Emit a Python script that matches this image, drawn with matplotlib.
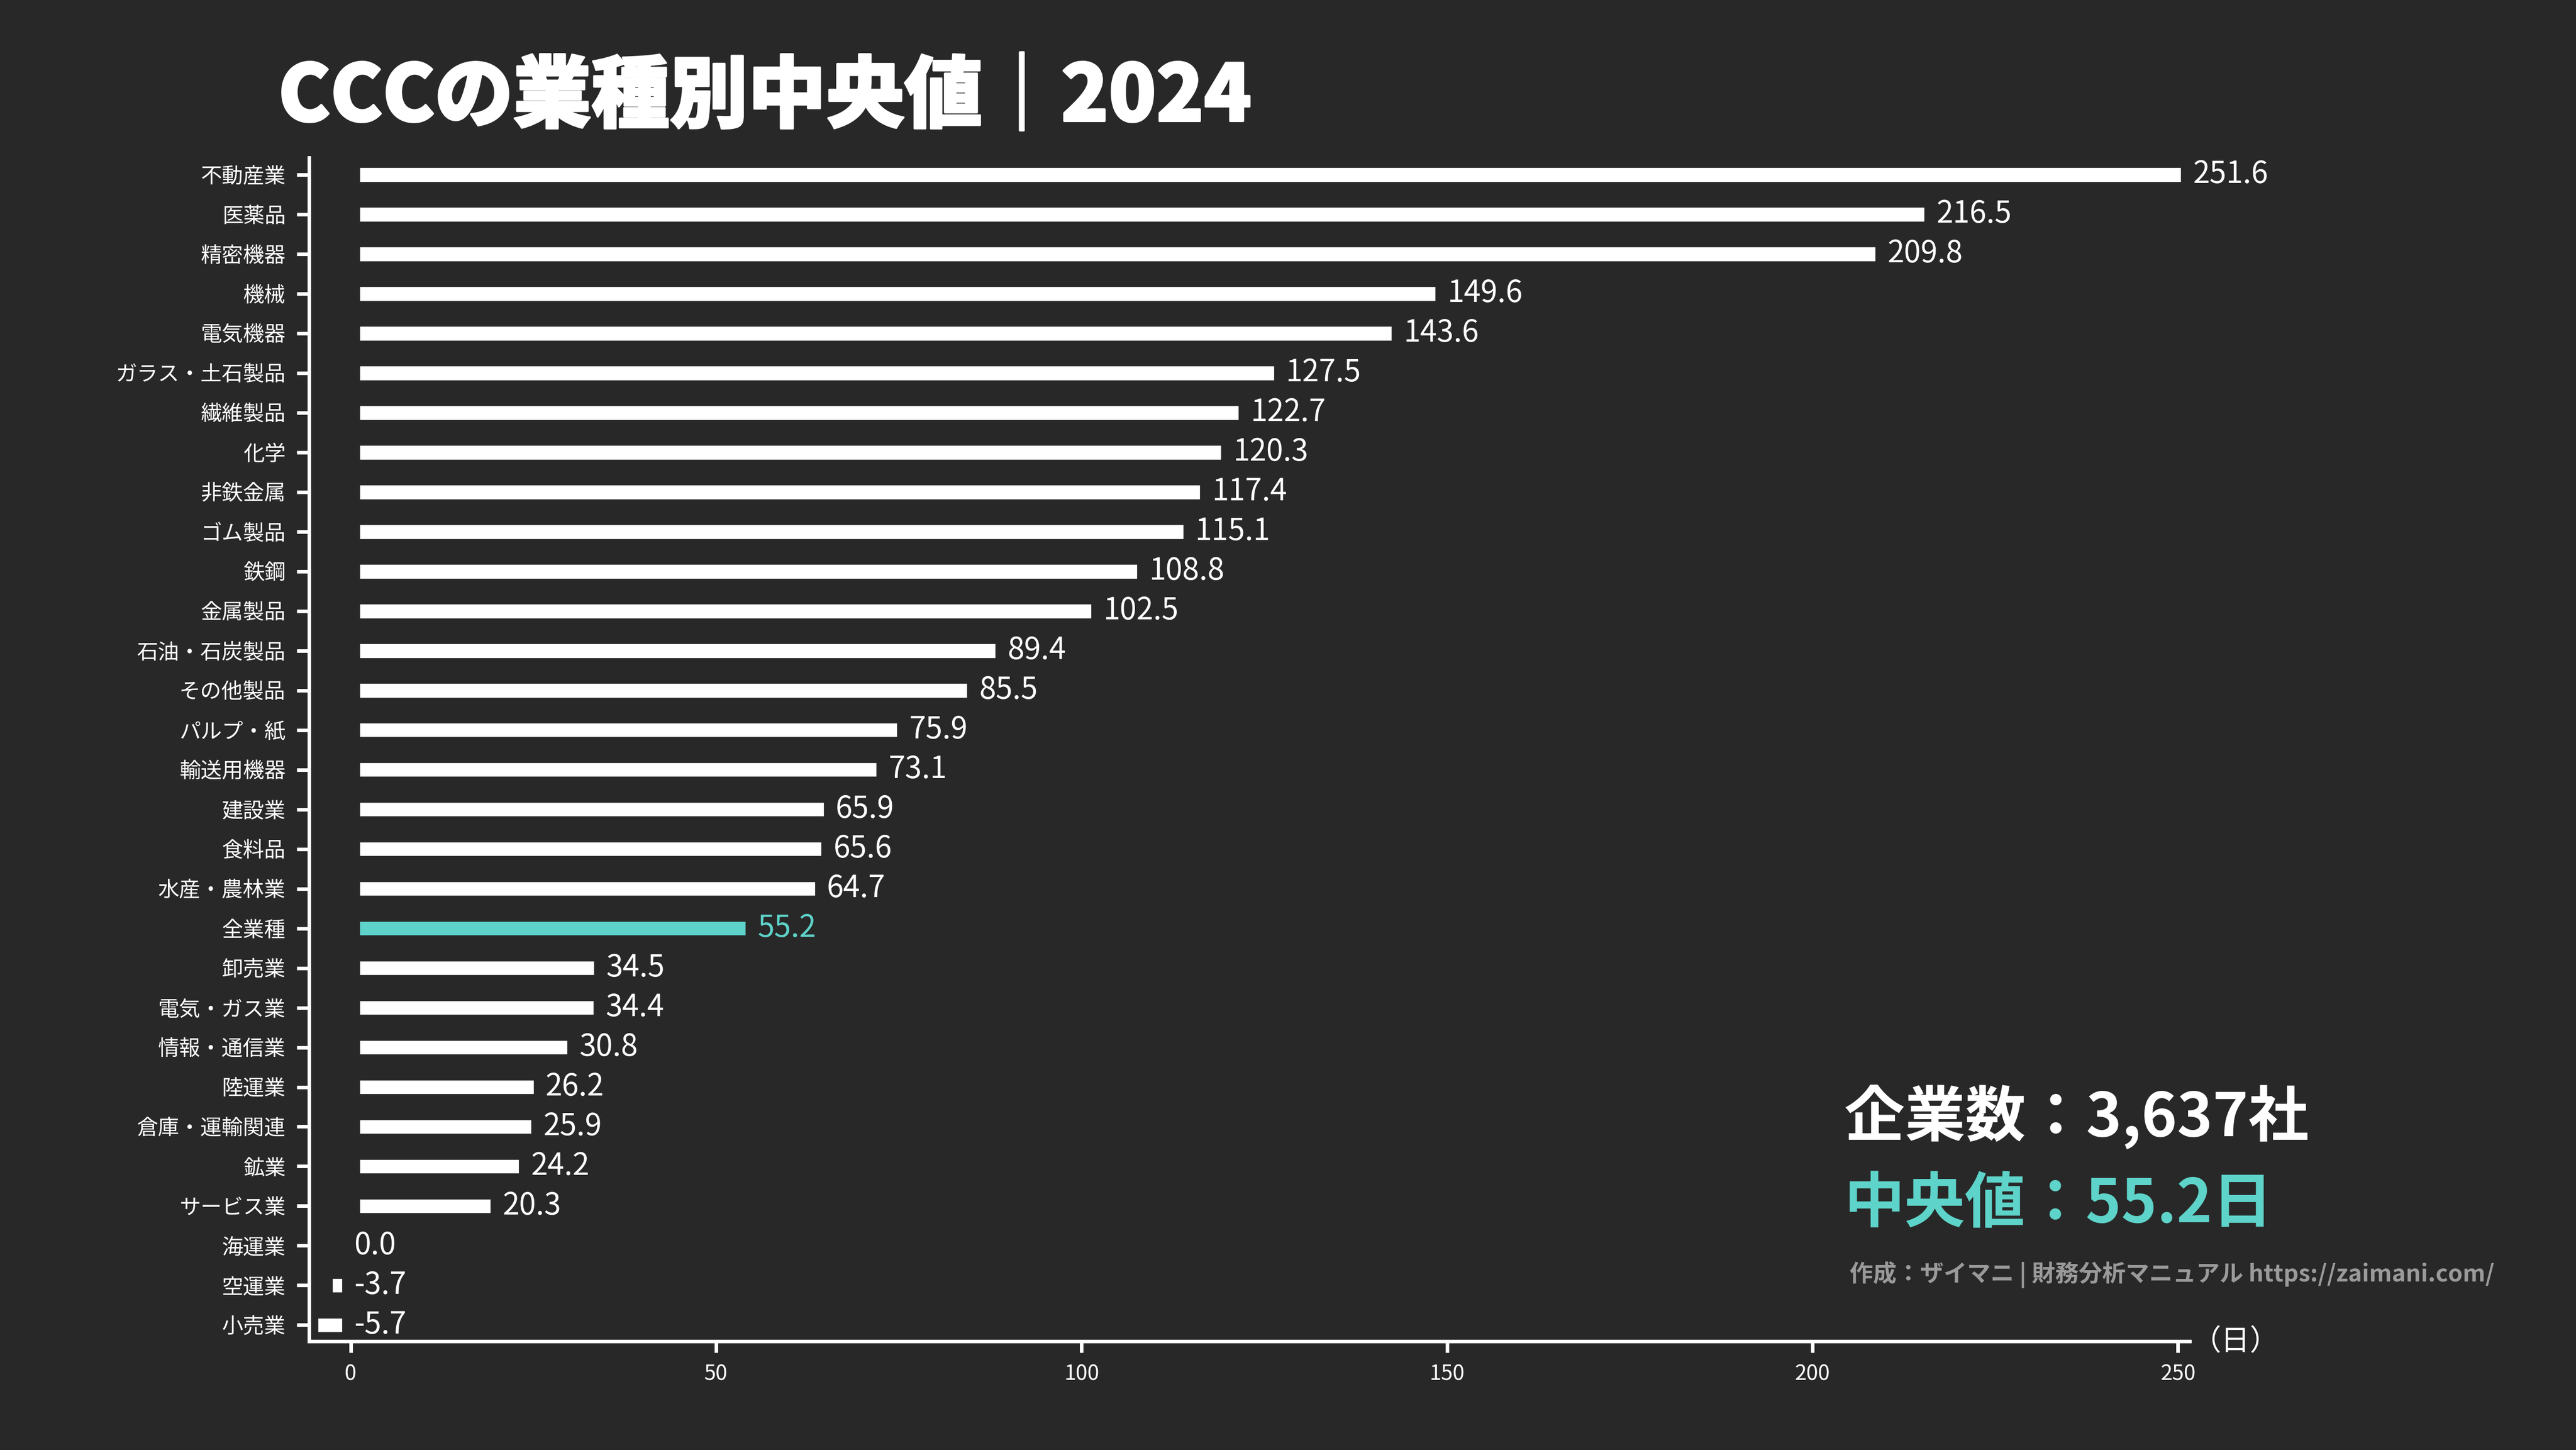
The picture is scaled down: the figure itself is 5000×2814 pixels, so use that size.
import matplotlib
matplotlib.use("Agg")
import matplotlib.pyplot as plt
import matplotlib.patheffects as pe
import numpy as np

plt.rcParams["font.family"] = ["Noto Sans CJK JP", "DejaVu Sans"]

# data (top to bottom)
industries = [
    "不動産業", "医薬品", "精密機器", "機械", "電気機器", "ガラス・土石製品",
    "繊維製品", "化学", "非鉄金属", "ゴム製品", "鉄鋼", "金属製品",
    "石油・石炭製品", "その他製品", "パルプ・紙", "輸送用機器", "建設業",
    "食料品", "水産・農林業", "全業種", "卸売業", "電気・ガス業",
    "情報・通信業", "陸運業", "倉庫・運輸関連", "鉱業", "サービス業",
    "海運業", "空運業", "小売業",
]
ccc_days = [
    251.6, 216.5, 209.8, 149.6, 143.6, 127.5,
    122.7, 120.3, 117.4, 115.1, 108.8, 102.5,
    89.4, 85.5, 75.9, 73.1, 65.9,
    65.6, 64.7, 55.2, 34.5, 34.4,
    30.8, 26.2, 25.9, 24.2, 20.3,
    0.0, -3.7, -5.7,
]
highlight = "全業種"
company_count = "3,637"
median_value = 55.2

bg = "#282828"
fg = "#ffffff"
teal = "#5ed3c9"
gray = "#9a9a9a"

fig = plt.figure(figsize=(16, 9.0048), dpi=312.5, facecolor=bg)
ax = fig.add_axes([0.12, 0.075, 0.73, 0.8163])
ax.set_facecolor(bg)

ypos = np.arange(len(industries))
colors = [teal if name == highlight else fg for name in industries]
# bars outlined in the background colour so they look slimmer
ax.barh(ypos, ccc_days, height=0.8, color=colors, edgecolor=bg, linewidth=8)

# value labels
for y, v, c in zip(ypos, ccc_days, colors):
    ax.annotate(f"{v:.1f}", xy=(max(v, 0), y), xytext=(1.5, 0),
                textcoords="offset points", ha="left", va="center",
                color=c, fontsize=13.5)

ax.set_xlim(min(ccc_days), max(ccc_days))
ax.set_ylim(len(industries) - 1 + 0.41, -0.43)
ax.set_yticks(ypos)
ax.set_yticklabels(industries)
ax.set_xticks([0, 50, 100, 150, 200, 250])

for side in ["top", "right"]:
    ax.spines[side].set_visible(False)
for side in ["left", "bottom"]:
    ax.spines[side].set_color(fg)
    ax.spines[side].set_linewidth(1.6)
ax.tick_params(axis="y", colors=fg, labelsize=9.5, length=5.5, width=1.6, pad=5)
ax.tick_params(axis="x", colors=fg, labelsize=9.5, length=5, width=1.6, pad=5)

# title
fig.text(0.108, 0.9325, "CCCの業種別中央値｜2024", color=fg, fontsize=35,
         fontweight="black", ha="left", va="center",
         path_effects=[pe.withStroke(linewidth=0.9, foreground=fg)])

# annotations
fig.text(0.716, 0.230, f"企業数：{company_count}社", color=fg, fontsize=27,
         fontweight="bold", ha="left", va="center")
fig.text(0.716, 0.169, f"中央値：{median_value}日", color=teal, fontsize=27,
         fontweight="bold", ha="left", va="center")
fig.text(0.718, 0.121, "作成：ザイマニ | 財務分析マニュアル https://zaimani.com/",
         color=gray, fontsize=10.5, fontweight="bold", ha="left", va="center")
fig.text(0.851, 0.075, "（日）", color=fg, fontsize=13, ha="left", va="center")

fig.savefig("out.png", dpi=312.5, facecolor=bg)
